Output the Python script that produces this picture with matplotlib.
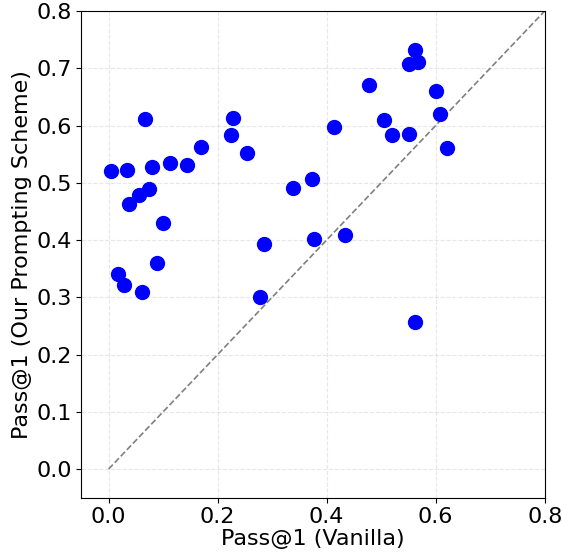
import matplotlib
matplotlib.use('Agg')
import matplotlib.pyplot as plt
import numpy as np

# Pass@1 per task: vanilla prompting vs. our prompting scheme
vanilla = [0.005, 0.033, 0.066, 0.079, 0.113, 0.144, 0.169, 0.229, 0.225, 0.254,
           0.074, 0.055, 0.037, 0.099, 0.338, 0.374, 0.286, 0.376,
           0.562, 0.552, 0.567, 0.477, 0.600, 0.506, 0.414, 0.519, 0.551, 0.608,
           0.620, 0.434,
           0.018, 0.028, 0.061, 0.088, 0.278,
           0.563]
ours = [0.520, 0.523, 0.611, 0.527, 0.534, 0.531, 0.563, 0.614, 0.583, 0.552,
        0.489, 0.479, 0.463, 0.429, 0.491, 0.506, 0.393, 0.402,
        0.732, 0.707, 0.711, 0.670, 0.660, 0.609, 0.597, 0.584, 0.585, 0.621,
        0.561, 0.408,
        0.340, 0.322, 0.310, 0.360, 0.300,
        0.257]

fig = plt.figure(figsize=(5.62, 5.54), dpi=100)
ax = fig.add_axes([0.1447, 0.1016, 0.8245, 0.8785])

ax.scatter(vanilla, ours, s=100, color='blue', zorder=3)
ax.plot([0, 0.8], [0, 0.8], linestyle='--', color='gray', linewidth=1.2)

ax.set_xlim(-0.05, 0.8)
ax.set_ylim(-0.05, 0.8)
ax.set_xticks(np.arange(0, 0.81, 0.2))
ax.set_yticks(np.arange(0, 0.81, 0.1))
ax.tick_params(labelsize=16)
ax.set_xlabel('Pass@1 (Vanilla)', fontsize=16, labelpad=1)
ax.set_ylabel('Pass@1 (Our Prompting Scheme)', fontsize=16, labelpad=3)
ax.grid(True, linestyle='--', alpha=0.3)

fig.savefig('out.png', dpi=100)
